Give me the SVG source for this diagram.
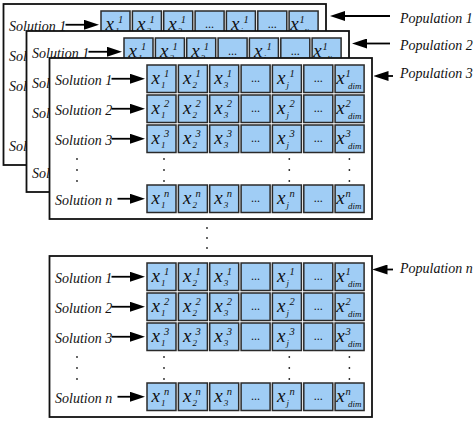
<svg xmlns="http://www.w3.org/2000/svg" xmlns:xlink="http://www.w3.org/1999/xlink" width="474" height="423" viewBox="0 0 474 423">
<style>
text{font-family:"Liberation Serif","Times New Roman",serif;font-style:italic;fill:#111}
.frame{fill:#fff;stroke:#111;stroke-width:1.8}
.cell{fill:#a0cdf5;stroke:#2a2a2a;stroke-width:1.5}
.lbl{font-size:14px}
.xv{font-size:19px}
.sup{font-size:10.5px}
.sub{font-size:9px}
.dots{font-size:12px;font-style:normal}
.arr{stroke:#000;stroke-width:1.8;fill:none;marker-end:url(#ah)}
.dot{fill:#222}
</style>
<defs>
<marker id="ah" viewBox="0 0 15 10" refX="8" refY="5" markerUnits="userSpaceOnUse" markerWidth="15" markerHeight="10" orient="auto">
<path d="M0,0 L15,5 L0,10 z" fill="#000"/>
</marker>
<g id="rowBase">
<rect class="cell" x="97.5" y="0" width="29" height="27.5"/>
<rect class="cell" x="128.9" y="0" width="29" height="27.5"/>
<rect class="cell" x="160.2" y="0" width="29" height="27.5"/>
<rect class="cell" x="191.6" y="0" width="29" height="27.5"/>
<rect class="cell" x="222.9" y="0" width="29" height="27.5"/>
<rect class="cell" x="254.3" y="0" width="29" height="27.5"/>
<rect class="cell" x="285.6" y="0" width="29" height="27.5"/>
<text class="xv" x="102" y="18.5">x</text><text class="sub" x="111.5" y="23">1</text>
<text class="xv" x="133.4" y="18.5">x</text><text class="sub" x="142.9" y="23">2</text>
<text class="xv" x="164.7" y="18.5">x</text><text class="sub" x="174.2" y="23">3</text>
<text class="dots" x="206.1" y="17" text-anchor="middle">...</text>
<text class="xv" x="227.4" y="18.5">x</text><text class="sub" x="236.9" y="23">j</text>
<text class="dots" x="268.8" y="17" text-anchor="middle">...</text>
<text class="xv" x="286.8" y="18.5">x</text><text class="sub" x="298.6" y="24">dim</text>
</g>
<g id="row1"><use href="#rowBase"/>
<text class="sup" x="114.5" y="12">1</text><text class="sup" x="145.9" y="12">1</text><text class="sup" x="177.2" y="12">1</text><text class="sup" x="239.9" y="12">1</text><text class="sup" x="296" y="12">1</text></g>
<g id="row2"><use href="#rowBase"/>
<text class="sup" x="114.5" y="12">2</text><text class="sup" x="145.9" y="12">2</text><text class="sup" x="177.2" y="12">2</text><text class="sup" x="239.9" y="12">2</text><text class="sup" x="296" y="12">2</text></g>
<g id="row3"><use href="#rowBase"/>
<text class="sup" x="114.5" y="12">3</text><text class="sup" x="145.9" y="12">3</text><text class="sup" x="177.2" y="12">3</text><text class="sup" x="239.9" y="12">3</text><text class="sup" x="296" y="12">3</text></g>
<g id="rowN"><use href="#rowBase"/>
<text class="sup" x="114.5" y="12">n</text><text class="sup" x="145.9" y="12">n</text><text class="sup" x="177.2" y="12">n</text><text class="sup" x="239.9" y="12">n</text><text class="sup" x="296" y="12">n</text></g>
<g id="pop">
<rect class="frame" x="0" y="0" width="322.5" height="161"/>
<text class="lbl" x="5.5" y="26.5">Solution 1</text>
<text class="lbl" x="5.5" y="56.5">Solution 2</text>
<text class="lbl" x="5.5" y="86.5">Solution 3</text>
<text class="lbl" x="5.5" y="146.5">Solution n</text>
<line class="arr" x1="62" y1="20.75" x2="88.5" y2="20.75"/>
<line class="arr" x1="62" y1="50.75" x2="88.5" y2="50.75"/>
<line class="arr" x1="62" y1="80.75" x2="88.5" y2="80.75"/>
<line class="arr" x1="68" y1="140.75" x2="88.5" y2="140.75"/>
<use href="#row1" y="7"/>
<use href="#row2" y="37"/>
<use href="#row3" y="67"/>
<use href="#rowN" y="127"/>
<circle class="dot" cx="27.5" cy="101" r="0.9"/><circle class="dot" cx="27.5" cy="112" r="0.9"/><circle class="dot" cx="27.5" cy="123" r="0.9"/>
<circle class="dot" cx="114.5" cy="101" r="0.9"/><circle class="dot" cx="114.5" cy="112" r="0.9"/><circle class="dot" cx="114.5" cy="123" r="0.9"/>
<circle class="dot" cx="239.8" cy="101" r="0.9"/><circle class="dot" cx="239.8" cy="112" r="0.9"/><circle class="dot" cx="239.8" cy="123" r="0.9"/>
<circle class="dot" cx="299.9" cy="101" r="0.9"/><circle class="dot" cx="299.9" cy="112" r="0.9"/><circle class="dot" cx="299.9" cy="123" r="0.9"/>
</g>
</defs>
<rect width="474" height="423" fill="#fff"/>
<g id="population-1-node"><use href="#pop" transform="translate(3.5,4)"/></g>
<g id="population-2-node"><use href="#pop" transform="translate(26.5,31)"/></g>
<g id="population-3-node"><use href="#pop" transform="translate(49.5,58)"/></g>
<g id="population-n-node"><use href="#pop" transform="translate(49.5,256)"/></g>
<g id="between-dots">
<circle class="dot" cx="207" cy="228" r="0.9"/><circle class="dot" cx="207" cy="238" r="0.9"/><circle class="dot" cx="207" cy="248" r="0.9"/>
</g>
<g id="population-labels">
<text class="lbl" x="400" y="22.5">Population 1</text>
<text class="lbl" x="400" y="49.5">Population 2</text>
<text class="lbl" x="400" y="78">Population 3</text>
<text class="lbl" x="400" y="273">Population n</text>
</g>
<g id="connectors">
<line class="arr" x1="390" y1="16" x2="337" y2="16"/>
<line class="arr" x1="390" y1="43.5" x2="359" y2="43.5"/>
<line class="arr" x1="393" y1="76" x2="380.5" y2="76"/>
<line class="arr" x1="393" y1="269.5" x2="379.5" y2="269.5"/>
</g>
</svg>
